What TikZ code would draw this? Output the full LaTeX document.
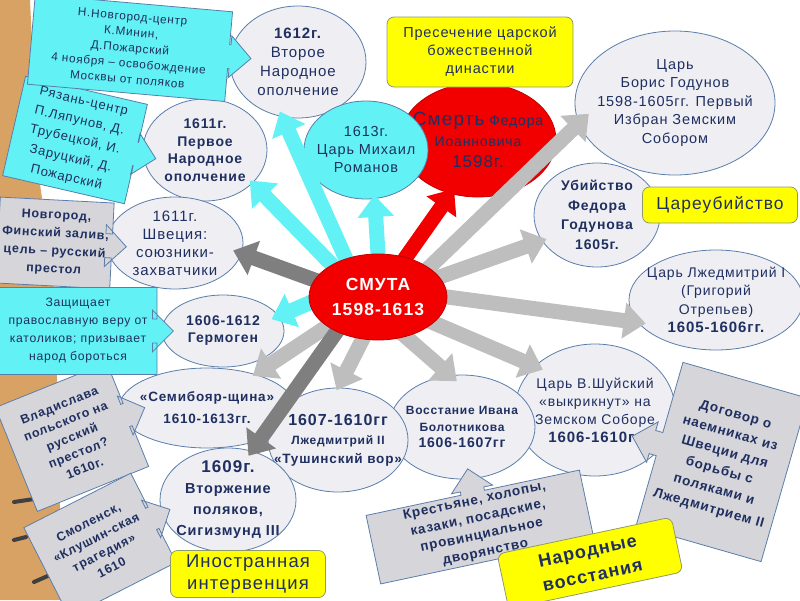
\documentclass[tikz,border=0pt]{standalone}
\usepackage{fontspec}
\setmainfont{Liberation Sans}[LetterSpace=6]
\usetikzlibrary{arrows.meta, shapes.geometric, shapes.arrows}

\definecolor{navy}{HTML}{1F2F60}
\definecolor{ellfill}{HTML}{EEEEF3}
\definecolor{ellline}{HTML}{5B7DAA}
\definecolor{cyanc}{HTML}{62F2F6}
\definecolor{redc}{HTML}{F20000}
\definecolor{redline}{HTML}{C00000}
\definecolor{grayc}{HTML}{D6D6DA}
\definecolor{lightarr}{HTML}{BEBEBE}
\definecolor{darkarr}{HTML}{7F7F7F}
\definecolor{yellowc}{HTML}{FFFF00}
\definecolor{yellowline}{HTML}{8E9A6E}
\definecolor{wood}{HTML}{D8A264}

\newcommand{\setfs}[2]{\fontsize{#1}{#2}\selectfont}
\pgfdeclarelayer{front}
\pgfsetlayers{main,front}

\tikzset{
	blk/.tip={Triangle[length=22pt, width=35pt]},
	% ellipses
	ell/.style={ellipse, draw=ellline, fill=ellfill, line width=0.8pt, inner sep=-20pt, text=navy, align=center},
	% callouts with an arrow
	callc/.style={arrow box, draw=ellline, fill=cyanc, line width=0.8pt, inner sep=1pt, text=navy, align=center,
		arrow box shaft width=24pt, arrow box head extend=9pt},
	callg/.style={callc, fill=grayc},
	% yellow labels
	ylabel/.style={rectangle, rounded corners=7pt, draw=yellowline, fill=yellowc, line width=0.8pt, text=navy, align=center},
	% block arrows from the centre
	bigarr/.style={line width=15pt, -blk, shorten <=-14pt}
}

\begin{document}
\begin{tikzpicture}[x=1pt, y=-1pt]
	\useasboundingbox (0,0) rectangle (800,600);
	\clip (0,0) rectangle (800,600);
	
	% Desk
	\fill[wood] (0,0) -- (30,0) -- (38,170) -- (55,290) -- (62,600) -- (0,600) -- cycle;
	\fill[yellow!70!orange] (100,372) -- (108,370) -- (116,405) -- (108,407) -- cycle;
	\draw[line width=4pt, line cap=round, black!75] (14,502) -- (34,499);
	\draw[line width=4pt, line cap=round, black!75] (14,540) -- (26,537);
	\draw[line width=4pt, line cap=round, black!75] (34,582) -- (50,575);
	
	% Ellipses
	\node[ell, minimum width=136pt, minimum height=112pt, font=\setfs{15}{19}] (vtoroe) at (298,62) {\textbf{1612г.}\\Второе\\Народное\\ополчение};
	\node[ell, minimum width=124pt, minimum height=102pt, font=\setfs{14}{17.5}\bfseries] (pervoe) at (205,150) {1611г.\\Первое\\Народное\\ополчение};
	\node[ell, minimum width=136pt, minimum height=92pt, font=\setfs{15}{18}] (shvecia) at (175,243) {1611г.\\Швеция:\\союзники-\\захватчики};
	\node[ell, minimum width=122pt, minimum height=72pt, font=\setfs{14}{17}\bfseries] (germogen) at (223,331) {1606-1612\\Гермоген};
	\node[ell, minimum width=176pt, minimum height=80pt, font=\setfs{13.5}{22}\bfseries] (semiboyar) at (207,408) {«Семибояр-щина»\\1610-1613гг.};
	\node[ell, minimum width=160pt, minimum height=132pt, font=\setfs{14}{18}] (shuisky) at (595,410) {Царь В.Шуйский\\«выкрикнут» на\\Земском Соборе\\{\bfseries\setfs{15}{18}1606-1610гг}};
	\node[ell, minimum width=146pt, minimum height=104pt, font=\setfs{12}{16.5}\bfseries] (bolotnikov) at (462,427) {Восстание Ивана\\Болотникова\\{\setfs{14}{16.5}1606-1607гг}};
	\node[ell, minimum width=140pt, minimum height=104pt, font=\setfs{13.5}{19}\bfseries] (tushino) at (338,440) {{\setfs{16}{19}1607-1610гг}\\{\setfs{12}{19}Лжедмитрий II}\\«Тушинский вор»};
	\node[ell, minimum width=136pt, minimum height=104pt, font=\setfs{14.5}{21}\bfseries] (sigizmund) at (228,500) {{\setfs{17}{21}1609г.}\\Вторжение\\поляков,\\Сигизмунд III};
	\node[ell, minimum width=200pt, minimum height=144pt, font=\setfs{14.5}{18.5}] (boris) at (675,103) {Царь\\Борис Годунов\\1598-1605гг. Первый\\Избран Земским\\Собором};
	\node[ell, minimum width=126pt, minimum height=104pt, font=\setfs{14}{19.5}\bfseries] (ubiystvo) at (597,215) {Убийство\\Федора\\Годунова\\1605г.};
	\node[ell, minimum width=174pt, minimum height=100pt, font=\setfs{14}{18.5}] (lzhe1) at (716,300) {Царь Лжедмитрий I\\(Григорий\\Отрепьев)\\{\bfseries\setfs{15}{18.5}1605-1606гг.}};
	\node[ell, fill=redc, draw=redline, minimum width=156pt, minimum height=114pt, font=\setfs{14}{21}] (smert) at (478,140) {{\setfs{19}{21}Смерть} Федора\\Иоанновича\\{\setfs{17}{21}1598г.}};
	\node[ell, fill=cyanc, minimum width=124pt, minimum height=98pt, font=\setfs{14.5}{18}] (mikhail) at (366,150) {1613г.\\Царь Михаил\\Романов};
	\node[ylabel, minimum width=186pt, minimum height=70pt, font=\setfs{14.5}{18}] (preseq) at (480,52) {Пресечение царской\\божественной\\династии};
	
	% Centre
	\begin{pgfonlayer}{front}
		\node[ell, fill=redc, draw=redline, text=white, minimum width=138pt, minimum height=86pt, font=\setfs{17.5}{25}\bfseries] (smuta) at (378,297) {СМУТА\\1598-1613};
	\end{pgfonlayer}
	
	% Arrows from the centre
	\foreach \col/\from/\to/\ext in {
		cyanc/130/vtoroe.254/-6pt, cyanc/145/pervoe.325/-4pt, cyanc/90/mikhail.280/-4pt, cyanc/-175/germogen.15/-8pt,
		redc/55/smert.243/-6pt,
		lightarr/30/boris.192/-14pt, lightarr/18/ubiystvo.205/-5pt, lightarr/0/lzhe1.196/-8pt,
		lightarr/-25/shuisky.144/-9pt, lightarr/-55/bolotnikov.103/-9pt, lightarr/-110/tushino.90/-3pt,
		lightarr/-150/semiboyar.35/-3pt,
		darkarr/-140/sigizmund.64/-6pt, darkarr/165/shvecia.351/-9pt}
		\draw[bigarr, draw=\col, shorten >=\ext] (smuta.\from) -- (\to);
	
	% Callouts
	\node[callc, rotate=-13, minimum width=125pt, minimum height=102pt, arrow box arrows={east:20pt from border}, font=\setfs{13}{19.5}] (ryazan) at (75,140) {Рязань-центр\\П.Ляпунов, Д.\\Трубецкой, И.\\Заруцкий, Д.\\Пожарский};
	\node[callc, rotate=-5, minimum width=198pt, minimum height=90pt, arrow box arrows={east:22pt from border}, font=\setfs{11.8}{15.7}] (nnov) at (130,48) {Н.Новгород-центр\\К.Минин,\\Д.Пожарский\\4 ноября – освобождение\\Москвы от поляков};
	\node[callg, rotate=-3, minimum width=114pt, minimum height=86pt, arrow box arrows={east:14pt from border}, font=\setfs{12.5}{18}\bfseries] (novgorod) at (55,243) {Новгород,\\Финский залив,\\цель – русский\\престол};
	\node[callg, rotate=22, minimum width=120pt, minimum height=112pt, arrow box arrows={east:18pt from border}, font=\setfs{12.5}{17}\bfseries] (vladislav) at (72,437) {Владислава\\польского на\\русский\\престол?\\1610г.};
	\node[callc, minimum width=158pt, minimum height=87pt, arrow box arrows={east:16pt from border}, font=\setfs{12.2}{18}] (zashch) at (78,331) {Защищает\\православную веру от\\католиков; призывает\\народ бороться};
	\node[callg, rotate=27, minimum width=120pt, minimum height=100pt, arrow box arrows={east:18pt from border}, font=\setfs{12.5}{17}\bfseries] (smolensk) at (100,545) {Смоленск,\\«Клушин-ская\\трагедия»\\1610};
	\node[callg, rotate=-16, minimum width=130pt, minimum height=170pt, arrow box arrows={west:28pt from border}, font=\setfs{13.5}{19.5}\bfseries] (dogovor) at (722,462) {Договор о\\наемниках из\\Швеции для\\борьбы с\\поляками и\\Лжедмитрием II};
	\node[callg, rotate=12, minimum width=218pt, minimum height=70pt, arrow box arrows={north:24pt from border}, font=\setfs{13.5}{17.5}\bfseries] (krest) at (480,527) {Крестьяне, холопы,\\казаки, посадские,\\провинциальное\\дворянство};
	
	% Yellow labels
	\node[ylabel, minimum width=155pt, minimum height=36pt, font=\setfs{17.4}{20}] (careub) at (720,205) {Цареубийство};
	\node[ylabel, minimum width=155pt, minimum height=47pt, font=\setfs{18.5}{22}] (inostr) at (248,574) {Иностранная\\интервенция};
	\node[ylabel, rotate=12, minimum width=178pt, minimum height=56pt, font=\setfs{18}{25}\bfseries] (narod) at (590,563) {Народные\\восстания};
\end{tikzpicture}
\end{document}
